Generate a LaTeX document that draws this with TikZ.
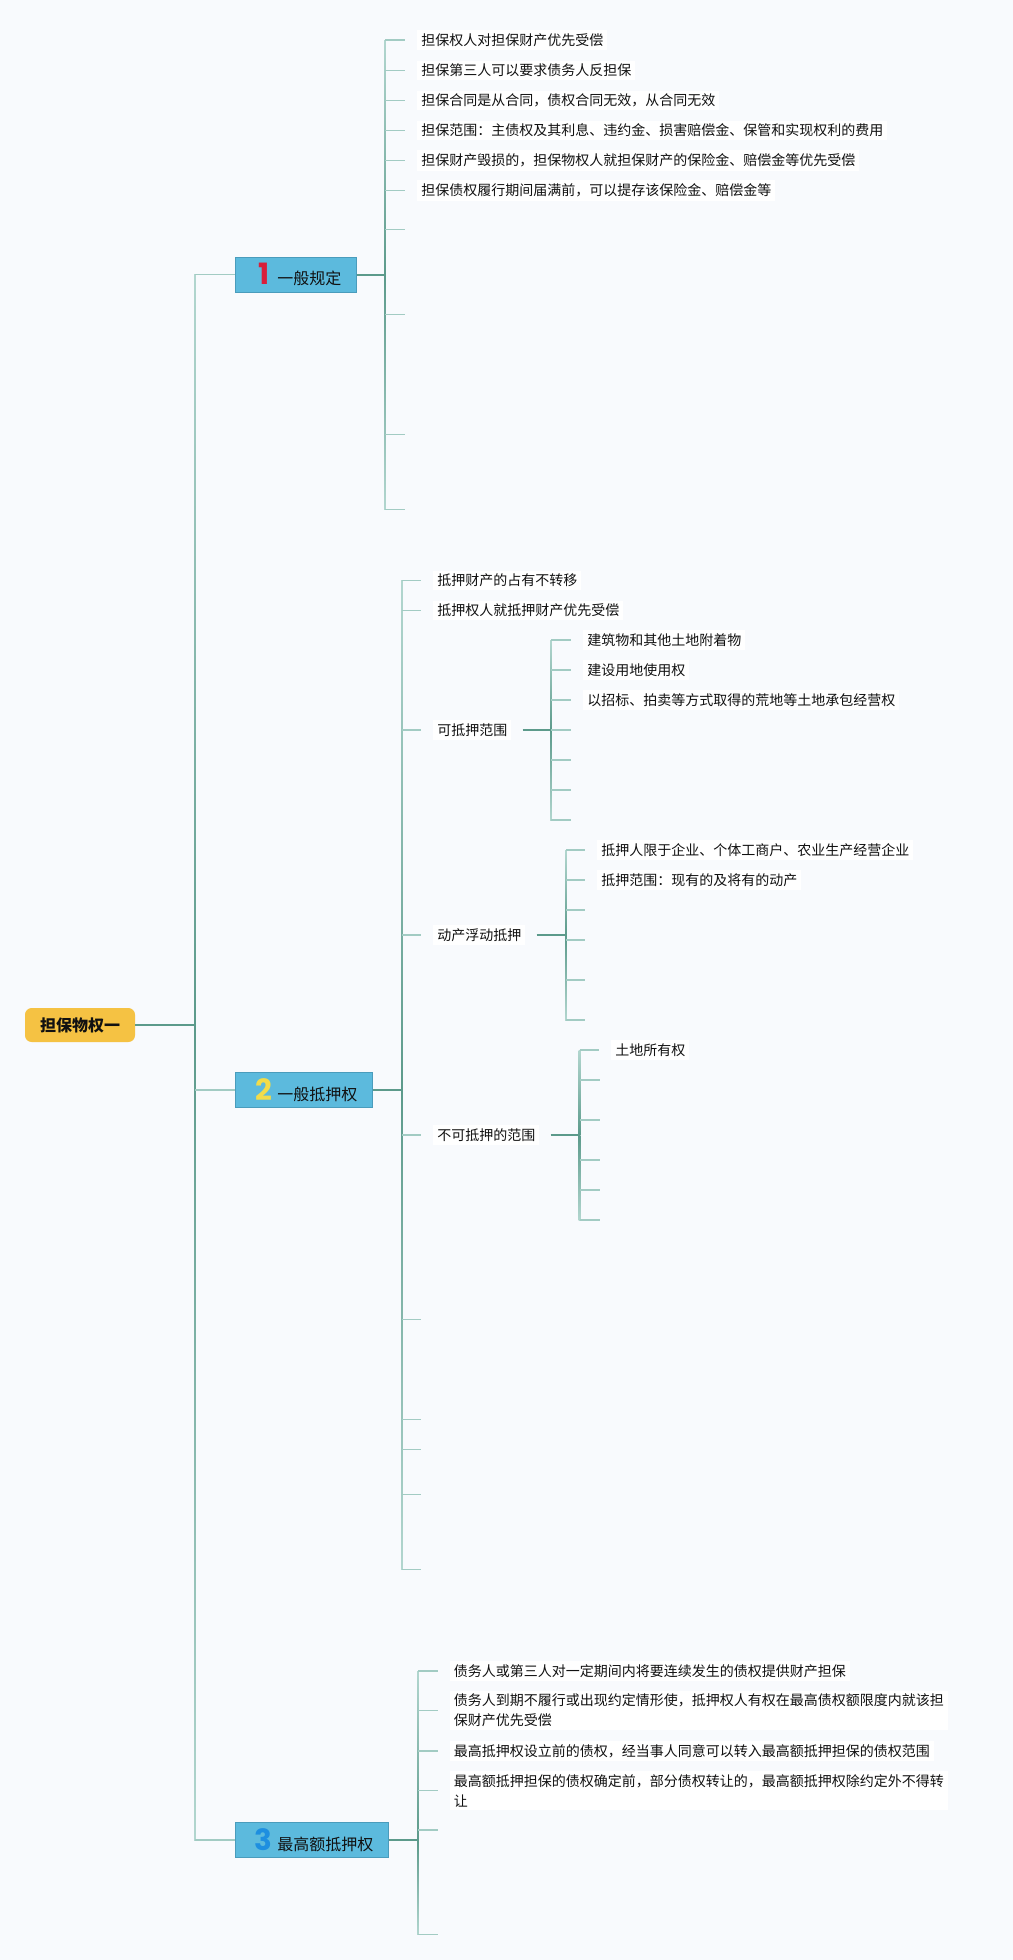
\documentclass[tikz,border=0pt]{standalone}
\usepackage{fontspec}
\setmainfont{Noto Sans CJK SC}
\newfontfamily\digitf{Poppins}
\definecolor{bg}{HTML}{F8FAFD}
\definecolor{lnd}{HTML}{5C9A8B}
\definecolor{lnl}{HTML}{B2D6CF}
\definecolor{tkc}{HTML}{A2CBC3}
\definecolor{boxf}{HTML}{5CBADD}
\definecolor{boxd}{HTML}{4A9CBC}
\definecolor{rootf}{HTML}{F5C243}
\definecolor{cA}{HTML}{D81E3A}
\definecolor{cB}{HTML}{F2DC4A}
\definecolor{cC}{HTML}{1E8FE0}
\definecolor{txt}{HTML}{111111}
\newcommand\numbox[2]{\makebox[20.6pt][c]{\digitf\bfseries\fontsize{22pt}{22pt}\selectfont\color{#1}#2}}
\newcommand\busline[4]{%
  \shade[top color=lnl,bottom color=lnd] ({#1-0.8},#2) rectangle ({#1+0.8},#3);
  \shade[top color=lnd,bottom color=lnl] ({#1-0.8},#3) rectangle ({#1+0.8},#4);}
\newcommand\tkn[2]{\draw[tk] (#1 |- #2.west) -- ([xshift=-9pt]#2.west);}
\newcommand\tke[2]{\draw[tk] (#1 |- #2) -- (#2);}
\begin{document}
\begin{tikzpicture}[x=0.75pt,y=-0.75pt,
  lf/.style={anchor=west,fill=white,inner xsep=3pt,inner ysep=2.5pt,text=txt,
     font=\fontsize{10.5pt}{15pt}\selectfont,align=left},
  tp/.style={anchor=west,fill=boxf,draw=boxd,line width=0.6pt,inner xsep=11.25pt,
     minimum height=26.25pt,text=txt,font=\fontsize{12pt}{14pt}\selectfont},
  rt/.style={fill=rootf,rounded corners=5pt,minimum width=82.5pt,minimum height=25.5pt,
     text=txt,font=\fontsize{12pt}{14pt}\selectfont\bfseries},
  tk/.style={draw=tkc,line width=1.1pt},
  cn/.style={draw=lnd,line width=1.5pt}]
\fill[bg] (0,0) rectangle (1013,1960);
\useasboundingbox (0,0) rectangle (1013,1960);

% root and main topics
\node[rt] (root) at (80,1025) {担保物权一};
\node[tp] (b1) at (234.5,274.5) {\numbox{cA}{1}一般规定};
\node[tp] (b2) at (234.5,1090) {\numbox{cB}{2}一般抵押权};
\node[tp] (b3) at (234.5,1840) {\numbox{cC}{3}最高额抵押权};

\coordinate (R) at (195,1025);
\busline{195}{274.5}{1025}{1840}
\draw[cn] (root.east) -- (R);
\draw[tk] (R |- b1.west) -- (b1.west);
\draw[tk] (R |- b2.west) -- (b2.west);
\draw[tk] (R |- b3.west) -- (b3.west);

% branch 1
\node[lf] (t11) at (417,40) {担保权人对担保财产优先受偿};
\node[lf] (t12) at (417,70.5) {担保第三人可以要求债务人反担保};
\node[lf] (t13) at (417,100.5) {担保合同是从合同，债权合同无效，从合同无效};
\node[lf] (t14) at (417,130.5) {担保范围：主债权及其利息、违约金、损害赔偿金、保管和实现权利的费用};
\node[lf] (t15) at (417,160.5) {担保财产毁损的，担保物权人就担保财产的保险金、赔偿金等优先受偿};
\node[lf] (t16) at (417,190.5) {担保债权履行期间届满前，可以提存该保险金、赔偿金等};
\coordinate (e17) at (405,229.5);
\coordinate (e18) at (405,314.5);
\coordinate (e19) at (405,434.5);
\coordinate (e110) at (405,509.5);
\coordinate (B1) at (385,274.5);
\busline{385}{40}{274.5}{509.5}
\draw[cn] (b1.east) -- (B1);
\tkn{B1}{t11}\tkn{B1}{t12}\tkn{B1}{t13}\tkn{B1}{t14}\tkn{B1}{t15}\tkn{B1}{t16}
\tke{B1}{e17}\tke{B1}{e18}\tke{B1}{e19}\tke{B1}{e110}

% branch 2
\node[lf] (t21) at (433,580.5) {抵押财产的占有不转移};
\node[lf] (t22) at (433,610.5) {抵押权人就抵押财产优先受偿};
\node[lf] (t23) at (433,730) {可抵押范围};
\node[lf] (t24) at (433,935) {动产浮动抵押};
\node[lf] (t25) at (433,1135) {不可抵押的范围};
\coordinate (e26) at (421,1319.5);
\coordinate (e27) at (421,1419.5);
\coordinate (e28) at (421,1449.5);
\coordinate (e29) at (421,1494.5);
\coordinate (e210) at (421,1569.5);
\coordinate (B2) at (402,1090);
\busline{402}{580.5}{1090}{1569.5}
\draw[cn] (b2.east) -- (B2);
\tkn{B2}{t21}\tkn{B2}{t22}\tkn{B2}{t23}\tkn{B2}{t24}\tkn{B2}{t25}
\tke{B2}{e26}\tke{B2}{e27}\tke{B2}{e28}\tke{B2}{e29}\tke{B2}{e210}

% sub-branch 可抵押范围
\node[lf] (t231) at (583,640) {建筑物和其他土地附着物};
\node[lf] (t232) at (583,670) {建设用地使用权};
\node[lf] (t233) at (583,700) {以招标、拍卖等方式取得的荒地等土地承包经营权};
\coordinate (e234) at (571,730);
\coordinate (e235) at (571,760);
\coordinate (e236) at (571,790);
\coordinate (e237) at (571,820);
\coordinate (B23) at (551,730);
\busline{551}{640}{730}{820}
\draw[cn] ([xshift=8.25pt]t23.east) -- (B23);
\tkn{B23}{t231}\tkn{B23}{t232}\tkn{B23}{t233}
\tke{B23}{e234}\tke{B23}{e235}\tke{B23}{e236}\tke{B23}{e237}

% sub-branch 动产浮动抵押
\node[lf] (t241) at (597,850) {抵押人限于企业、个体工商户、农业生产经营企业};
\node[lf] (t242) at (597,880) {抵押范围：现有的及将有的动产};
\coordinate (e243) at (585,910);
\coordinate (e244) at (585,940);
\coordinate (e245) at (585,980);
\coordinate (e246) at (585,1020);
\coordinate (B24) at (566,935);
\busline{566}{850}{935}{1020}
\draw[cn] ([xshift=8.25pt]t24.east) -- (B24);
\tkn{B24}{t241}\tkn{B24}{t242}
\tke{B24}{e243}\tke{B24}{e244}\tke{B24}{e245}\tke{B24}{e246}

% sub-branch 不可抵押的范围
\node[lf] (t251) at (611,1050) {土地所有权};
\coordinate (e252) at (600,1080);
\coordinate (e253) at (600,1120);
\coordinate (e254) at (600,1160);
\coordinate (e255) at (600,1190);
\coordinate (e256) at (600,1220);
\coordinate (B25) at (579.5,1135);
\busline{579.5}{1050}{1135}{1220}
\draw[cn] ([xshift=8.25pt]t25.east) -- (B25);
\tkn{B25}{t251}
\tke{B25}{e252}\tke{B25}{e253}\tke{B25}{e254}\tke{B25}{e255}\tke{B25}{e256}

% branch 3
\node[lf] (t31) at (449.5,1671) {债务人或第三人对一定期间内将要连续发生的债权提供财产担保};
\node[lf] (t32) at (449.5,1710.5) {债务人到期不履行或出现约定情形使，抵押权人有权在最高债权额限度内就该担\\保财产优先受偿};
\node[lf] (t33) at (449.5,1751) {最高抵押权设立前的债权，经当事人同意可以转入最高额抵押担保的债权范围};
\node[lf] (t34) at (449.5,1790.5) {最高额抵押担保的债权确定前，部分债权转让的，最高额抵押权除约定外不得转\\让};
\coordinate (e35) at (438,1830);
\coordinate (e36) at (438,1934.5);
\coordinate (B3) at (418,1840);
\busline{418}{1671}{1840}{1934.5}
\draw[cn] (b3.east) -- (B3);
\tkn{B3}{t31}\tkn{B3}{t32}\tkn{B3}{t33}\tkn{B3}{t34}
\tke{B3}{e35}\tke{B3}{e36}
\end{tikzpicture}
\end{document}
